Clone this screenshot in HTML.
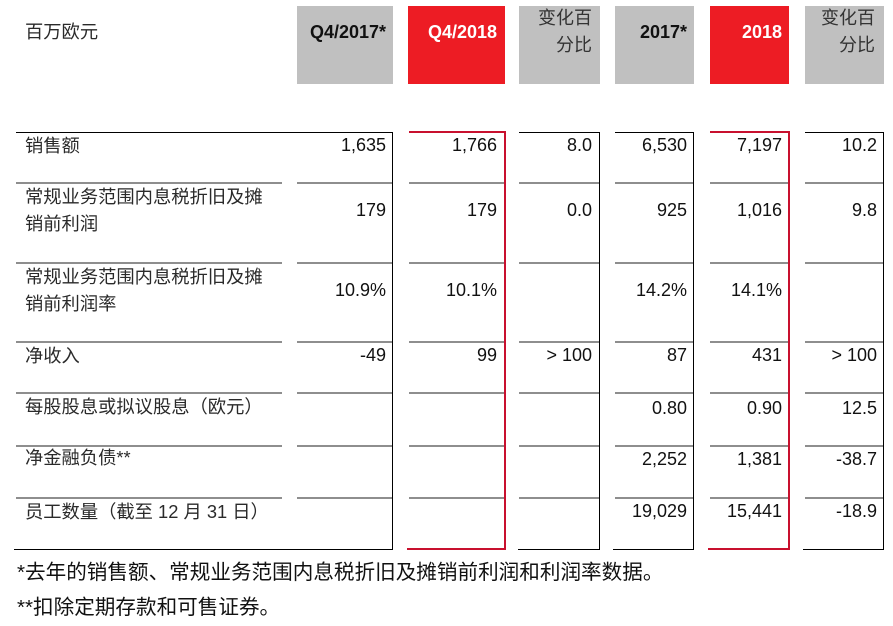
<!DOCTYPE html>
<html>
<head>
<meta charset="utf-8">
<style>
html,body{margin:0;padding:0;background:#fff;}
body{width:893px;height:626px;position:relative;overflow:hidden;}
.a{position:absolute;}
.t{position:absolute;font-family:"Liberation Sans","Noto Sans CJK SC",sans-serif;font-size:18px;line-height:28px;white-space:nowrap;color:#111;}
.l{left:25px;color:#2a2a2a;font-size:18.3px;}
.b{font-weight:bold;}
.w{color:#fff;}
.g{background:#c0c0c0;}
.r{background:#ed1c24;}
.gl{background:#8e8e8e;height:2px;}
.bk{background:#000;}
.rd{background:#c8102e;}
.c1{right:507px;text-align:right;}
.c2{right:396px;text-align:right;}
.c3{right:301px;text-align:right;}
.c4{right:206px;text-align:right;}
.c5{right:111px;text-align:right;}
.c6{right:16px;text-align:right;}
.h6{right:18px;text-align:right;}
.fn{position:absolute;left:17px;font-family:"Liberation Sans","Noto Sans CJK SC",sans-serif;font-size:20.6px;line-height:30px;white-space:nowrap;color:#111;}
</style>
</head>
<body>
<!-- header boxes -->
<div class="a g" style="left:297px;top:6px;width:96px;height:78px;"></div>
<div class="a r" style="left:408px;top:6px;width:97px;height:78px;"></div>
<div class="a g" style="left:519px;top:6px;width:81px;height:78px;"></div>
<div class="a g" style="left:615px;top:6px;width:79px;height:78px;"></div>
<div class="a r" style="left:710px;top:6px;width:79px;height:78px;"></div>
<div class="a g" style="left:805px;top:6px;width:79px;height:78px;"></div>

<div class="t l" style="top:18px;">百万欧元</div>
<div class="t b c1" style="top:18px;">Q4/2017*</div>
<div class="t b w c2" style="top:18px;">Q4/2018</div>
<div class="t c3" style="top:4px;color:#333;">变化百</div>
<div class="t c3" style="top:31px;color:#333;">分比</div>
<div class="t b c4" style="top:18px;">2017*</div>
<div class="t b w c5" style="top:18px;">2018</div>
<div class="t h6" style="top:4px;color:#333;">变化百</div>
<div class="t h6" style="top:31px;color:#333;">分比</div>

<!-- top lines -->
<div class="a bk" style="left:16px;top:132px;width:377px;height:1px;"></div>
<div class="a rd" style="left:409px;top:131px;width:97px;height:2px;"></div>
<div class="a bk" style="left:519px;top:132px;width:81px;height:1px;"></div>
<div class="a bk" style="left:615px;top:132px;width:79px;height:1px;"></div>
<div class="a rd" style="left:710px;top:131px;width:80px;height:2px;"></div>
<div class="a bk" style="left:805px;top:132px;width:79px;height:1px;"></div>

<!-- vertical lines -->
<div class="a bk" style="left:392px;top:132px;width:1px;height:418px;"></div>
<div class="a rd" style="left:504px;top:131px;width:2px;height:419px;"></div>
<div class="a bk" style="left:599px;top:132px;width:1px;height:418px;"></div>
<div class="a bk" style="left:693px;top:132px;width:1px;height:418px;"></div>
<div class="a rd" style="left:788px;top:131px;width:2px;height:419px;"></div>
<div class="a bk" style="left:883px;top:132px;width:1px;height:418px;"></div>

<!-- bottom lines -->
<div class="a bk" style="left:14px;top:549px;width:379px;height:1px;"></div>
<div class="a rd" style="left:407px;top:548px;width:99px;height:2px;"></div>
<div class="a bk" style="left:518px;top:549px;width:82px;height:1px;"></div>
<div class="a bk" style="left:613px;top:549px;width:81px;height:1px;"></div>
<div class="a rd" style="left:708px;top:548px;width:82px;height:2px;"></div>
<div class="a bk" style="left:803px;top:549px;width:81px;height:1px;"></div>

<!-- grey rules -->
<div class="a gl" style="left:16px;top:182px;width:266px;"></div>
<div class="a gl" style="left:297px;top:182px;width:95px;"></div>
<div class="a gl" style="left:409px;top:182px;width:95px;"></div>
<div class="a gl" style="left:519px;top:182px;width:80px;"></div>
<div class="a gl" style="left:615px;top:182px;width:78px;"></div>
<div class="a gl" style="left:710px;top:182px;width:78px;"></div>
<div class="a gl" style="left:805px;top:182px;width:78px;"></div>

<div class="a gl" style="left:16px;top:262px;width:266px;"></div>
<div class="a gl" style="left:297px;top:262px;width:95px;"></div>
<div class="a gl" style="left:409px;top:262px;width:95px;"></div>
<div class="a gl" style="left:519px;top:262px;width:80px;"></div>
<div class="a gl" style="left:615px;top:262px;width:78px;"></div>
<div class="a gl" style="left:710px;top:262px;width:78px;"></div>
<div class="a gl" style="left:805px;top:262px;width:78px;"></div>

<div class="a gl" style="left:16px;top:341px;width:266px;"></div>
<div class="a gl" style="left:297px;top:341px;width:95px;"></div>
<div class="a gl" style="left:409px;top:341px;width:95px;"></div>
<div class="a gl" style="left:519px;top:341px;width:80px;"></div>
<div class="a gl" style="left:615px;top:341px;width:78px;"></div>
<div class="a gl" style="left:710px;top:341px;width:78px;"></div>
<div class="a gl" style="left:805px;top:341px;width:78px;"></div>

<div class="a gl" style="left:16px;top:392px;width:266px;"></div>
<div class="a gl" style="left:297px;top:392px;width:95px;"></div>
<div class="a gl" style="left:409px;top:392px;width:95px;"></div>
<div class="a gl" style="left:519px;top:392px;width:80px;"></div>
<div class="a gl" style="left:615px;top:392px;width:78px;"></div>
<div class="a gl" style="left:710px;top:392px;width:78px;"></div>
<div class="a gl" style="left:805px;top:392px;width:78px;"></div>

<div class="a gl" style="left:16px;top:445px;width:266px;"></div>
<div class="a gl" style="left:297px;top:445px;width:95px;"></div>
<div class="a gl" style="left:409px;top:445px;width:95px;"></div>
<div class="a gl" style="left:519px;top:445px;width:80px;"></div>
<div class="a gl" style="left:615px;top:445px;width:78px;"></div>
<div class="a gl" style="left:710px;top:445px;width:78px;"></div>
<div class="a gl" style="left:805px;top:445px;width:78px;"></div>

<div class="a gl" style="left:16px;top:497px;width:266px;"></div>
<div class="a gl" style="left:297px;top:497px;width:95px;"></div>
<div class="a gl" style="left:409px;top:497px;width:95px;"></div>
<div class="a gl" style="left:519px;top:497px;width:80px;"></div>
<div class="a gl" style="left:615px;top:497px;width:78px;"></div>
<div class="a gl" style="left:710px;top:497px;width:78px;"></div>
<div class="a gl" style="left:805px;top:497px;width:78px;"></div>

<!-- row 1 -->
<div class="t l" style="top:132px;">销售额</div>
<div class="t c1" style="top:131px;">1,635</div>
<div class="t c2" style="top:131px;">1,766</div>
<div class="t c3" style="top:131px;">8.0</div>
<div class="t c4" style="top:131px;">6,530</div>
<div class="t c5" style="top:131px;">7,197</div>
<div class="t c6" style="top:131px;">10.2</div>

<!-- row 2 -->
<div class="t l" style="top:183px;">常规业务范围内息税折旧及摊</div>
<div class="t l" style="top:210px;">销前利润</div>
<div class="t c1" style="top:196px;">179</div>
<div class="t c2" style="top:196px;">179</div>
<div class="t c3" style="top:196px;">0.0</div>
<div class="t c4" style="top:196px;">925</div>
<div class="t c5" style="top:196px;">1,016</div>
<div class="t c6" style="top:196px;">9.8</div>

<!-- row 3 -->
<div class="t l" style="top:263px;">常规业务范围内息税折旧及摊</div>
<div class="t l" style="top:290px;">销前利润率</div>
<div class="t c1" style="top:276px;">10.9%</div>
<div class="t c2" style="top:276px;">10.1%</div>
<div class="t c4" style="top:276px;">14.2%</div>
<div class="t c5" style="top:276px;">14.1%</div>

<!-- row 4 -->
<div class="t l" style="top:342px;">净收入</div>
<div class="t c1" style="top:341px;">-49</div>
<div class="t c2" style="top:341px;">99</div>
<div class="t c3" style="top:341px;">&gt; 100</div>
<div class="t c4" style="top:341px;">87</div>
<div class="t c5" style="top:341px;">431</div>
<div class="t c6" style="top:341px;">&gt; 100</div>

<!-- row 5 -->
<div class="t l" style="top:393px;">每股股息或拟议股息（欧元）</div>
<div class="t c4" style="top:394px;">0.80</div>
<div class="t c5" style="top:394px;">0.90</div>
<div class="t c6" style="top:394px;">12.5</div>

<!-- row 6 -->
<div class="t l" style="top:444px;">净金融负债**</div>
<div class="t c4" style="top:445px;">2,252</div>
<div class="t c5" style="top:445px;">1,381</div>
<div class="t c6" style="top:445px;">-38.7</div>

<!-- row 7 -->
<div class="t l" style="top:498px;">员工数量（截至 12 月 31 日）</div>
<div class="t c4" style="top:497px;">19,029</div>
<div class="t c5" style="top:497px;">15,441</div>
<div class="t c6" style="top:497px;">-18.9</div>

<!-- footnotes -->
<div class="fn" style="top:558px;">*去年的销售额、常规业务范围内息税折旧及摊销前利润和利润率数据。</div>
<div class="fn" style="top:593px;">**扣除定期存款和可售证券。</div>
</body>
</html>
